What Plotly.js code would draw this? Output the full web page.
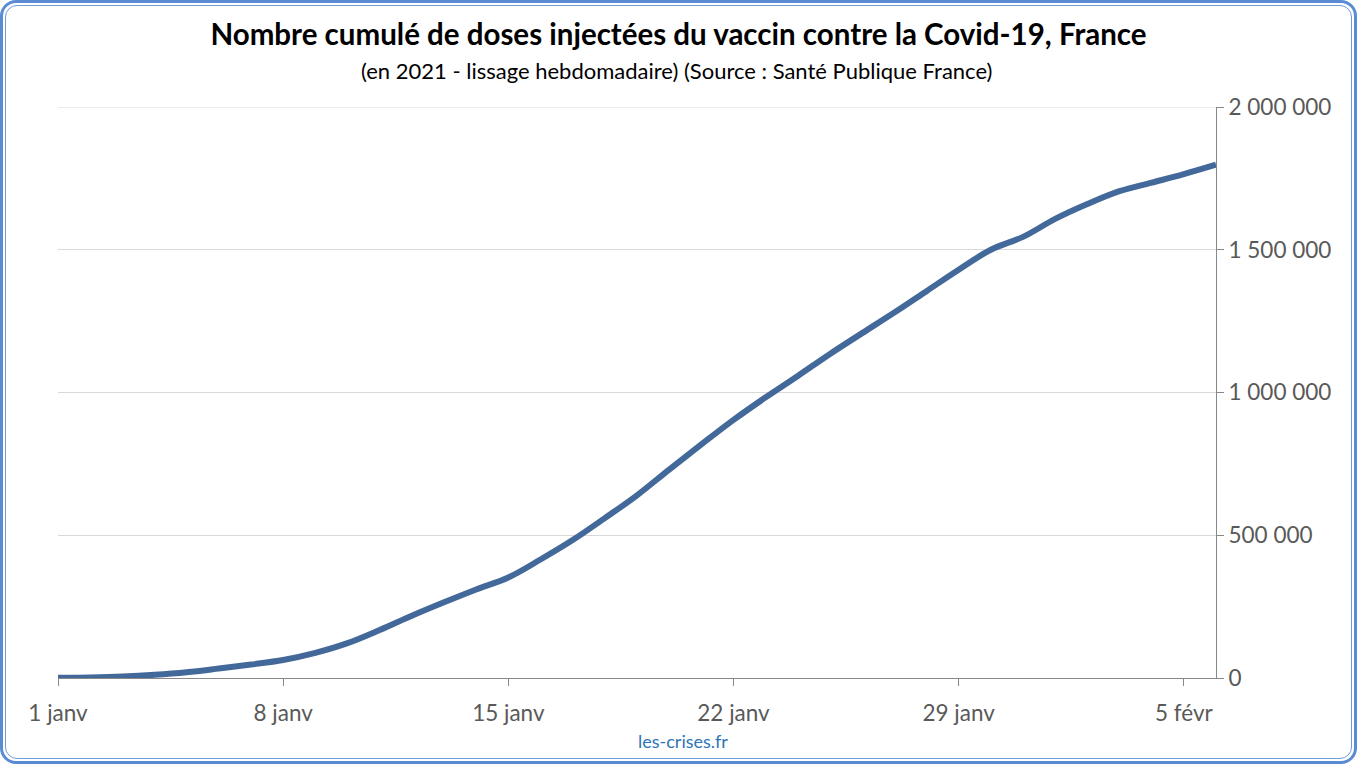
<!DOCTYPE html>
<html>
<head>
<meta charset="utf-8">
<script src="https://cdn.plot.ly/plotly-3.0.1.min.js"></script>
<style>
  html, body { margin: 0; padding: 0; background: #fff; }
  #wrap { position: relative; width: 1357px; height: 764px; }
  #chart { position: absolute; left: 0; top: 0; width: 1357px; height: 764px; }
  .b1 { position: absolute; left: 0; top: 0; width: 1357px; height: 764px; box-sizing: border-box;
        border: 3px solid #5A8CD4; border-radius: 16px; pointer-events: none; }
  .b2 { position: absolute; left: 5px; top: 5px; width: 1347px; height: 754px; box-sizing: border-box;
        border: 1.5px solid #6E9BDA; border-radius: 12px; pointer-events: none; }
</style>
</head>
<body>
<div id="wrap">
  <div id="chart"></div>
  <div class="b1"></div>
  <div class="b2"></div>
</div>
<script>
// Dates (Jan 1 -> Feb 6, 2021)
const dates = [
  '2021-01-01','2021-01-02','2021-01-03','2021-01-04','2021-01-05','2021-01-06','2021-01-07',
  '2021-01-08','2021-01-09','2021-01-10','2021-01-11','2021-01-12','2021-01-13','2021-01-14',
  '2021-01-15','2021-01-16','2021-01-17','2021-01-18','2021-01-19','2021-01-20','2021-01-21',
  '2021-01-22','2021-01-23','2021-01-24','2021-01-25','2021-01-26','2021-01-27','2021-01-28',
  '2021-01-29','2021-01-30','2021-01-31','2021-02-01','2021-02-02','2021-02-03','2021-02-04',
  '2021-02-05','2021-02-06'
];
// Cumulative doses (weekly smoothed)
const doses = [
  1000, 2000, 5000, 11000, 20000, 33000, 47000,
  63000, 88000, 122000, 168000, 218000, 265000, 310000,
  352000, 415000, 483000, 560000, 640000, 730000, 818000,
  904000, 983000, 1058000, 1135000, 1208000, 1280000, 1355000,
  1430000, 1500000, 1545000, 1608000, 1660000, 1705000, 1735000,
  1765000, 1798000
];
const xTickVals = ['2021-01-01','2021-01-08','2021-01-15','2021-01-22','2021-01-29','2021-02-05'];
const xTickText = ['1 janv','8 janv','15 janv','22 janv','29 janv','5 févr'];
const yTickVals = [0, 500000, 1000000, 1500000, 2000000];

const titleText = 'Nombre cumulé de doses injectées du vaccin contre la Covid-19, France';
const subtitleText = '(en 2021 - lissage hebdomadaire) (Source : Santé Publique France)';
const sourceText = 'les-crises.fr';

const FONT = 'Lato, "Open Sans", sans-serif';
const yMax = yTickVals[yTickVals.length - 1];

const trace = {
  x: dates, y: doses, type: 'scatter', mode: 'lines',
  line: { color: '#43699B', width: 6, shape: 'spline', smoothing: 1.0 },
  hoverinfo: 'x+y'
};

const layout = {
  width: 1357, height: 764,
  margin: { l: 58, r: 141, t: 107, b: 86 },
  paper_bgcolor: '#ffffff', plot_bgcolor: '#ffffff',
  separators: ', ',
  showlegend: false,
  font: { family: FONT, color: '#595959' },
  title: {
    text: '<b>' + titleText + '</b>',
    font: { family: FONT, size: 29.5, color: '#000000' },
    x: 0.5, xanchor: 'center', xref: 'container',
    y: 0.955, yref: 'container', yanchor: 'middle'
  },
  xaxis: {
    type: 'date',
    range: ['2021-01-01', '2021-02-06'],
    tickmode: 'array', tickvals: xTickVals, ticktext: xTickText,
    ticks: 'outside', ticklen: 7, tickcolor: '#888888', tickwidth: 1,
    ticklabelstandoff: 8,
    showline: true, linecolor: '#888888', linewidth: 1,
    showgrid: false, zeroline: false,
    tickfont: { family: FONT, size: 22.5, color: '#595959' },
    fixedrange: true
  },
  yaxis: {
    side: 'right',
    range: [0, yMax],
    tickmode: 'array', tickvals: yTickVals, tickformat: ',d',
    ticks: 'outside', ticklen: 7, tickcolor: '#888888', tickwidth: 1,
    showline: true, linecolor: '#888888', linewidth: 1,
    showgrid: true, gridcolor: '#D9D9D9', gridwidth: 1,
    zeroline: false,
    tickfont: { family: FONT, size: 22.5, color: '#595959' },
    fixedrange: true
  },
  shapes: [
    { type: 'line', xref: 'paper', x0: 0, x1: 1, yref: 'y', y0: yMax, y1: yMax,
      line: { color: '#D9D9D9', width: 1 }, layer: 'below' }
  ],
  annotations: [
    {
      text: subtitleText, showarrow: false,
      xref: 'paper', x: 0.5345, xanchor: 'center',
      yref: 'paper', y: 1.0, yanchor: 'middle', yshift: 37,
      font: { family: FONT, size: 22, color: '#000000' }
    },
    {
      text: sourceText, showarrow: false,
      xref: 'paper', x: 0.5397, xanchor: 'center',
      yref: 'paper', y: 0, yanchor: 'middle', yshift: -63,
      font: { family: FONT, size: 18, color: '#2E75B6' }
    }
  ]
};

Plotly.newPlot('chart', [trace], layout, { displayModeBar: false, staticPlot: true });
</script>
</body>
</html>
